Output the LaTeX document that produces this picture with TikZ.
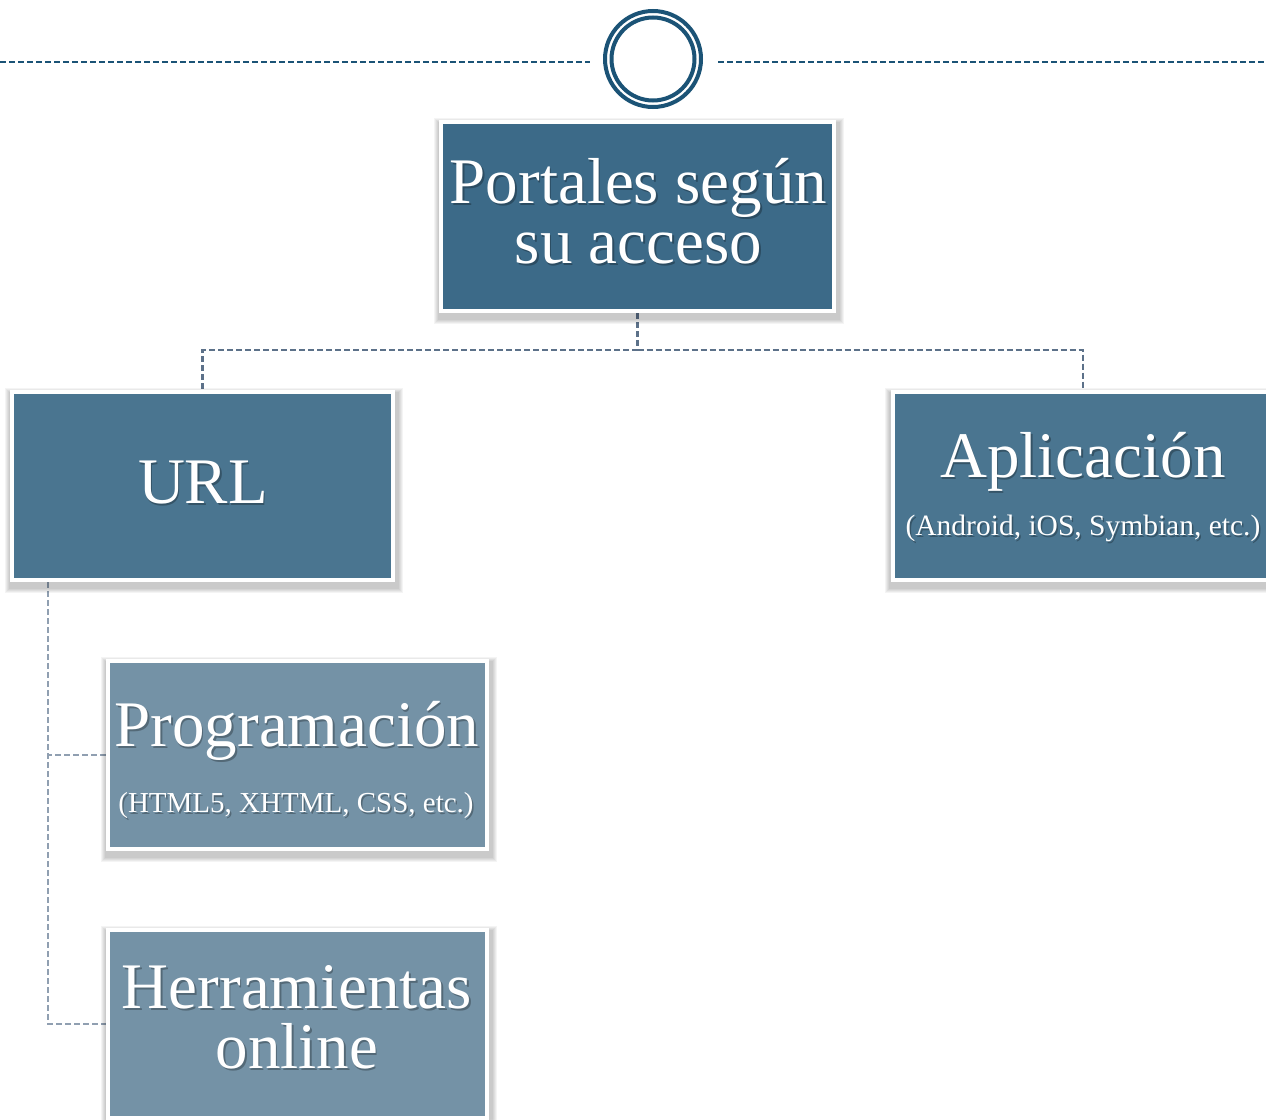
\documentclass[tikz,border=0pt]{standalone}
\usepackage{fontspec}
\setmainfont{Liberation Serif}
\usetikzlibrary{calc,backgrounds}
\definecolor{ringc}{HTML}{1B5376}
\definecolor{topc}{HTML}{3C6A88}
\definecolor{midc}{HTML}{4A7590}
\definecolor{lowc}{HTML}{7492A6}
\definecolor{connA}{HTML}{5C7189}
\definecolor{connB}{HTML}{909FB1}
\tikzset{
  boxbase/.style={rectangle, draw=white, line width=4pt, inner sep=0pt},
  topbox/.style={boxbase, fill=topc, minimum width=393pt, minimum height=189pt},
  midbox/.style={boxbase, fill=midc, minimum width=381pt, minimum height=188pt},
  lowbox/.style={boxbase, fill=lowc, minimum width=379pt, minimum height=188pt},
  bigtxt/.style={font=\fontsize{65}{60}\selectfont, text=white, anchor=base, inner sep=0pt, align=center},
  smalltxt/.style={font=\fontsize{29.5}{32}\selectfont, text=white, anchor=base, inner sep=0pt},
  rule/.style={draw=ringc, line width=1.4pt, dash pattern=on 6pt off 3pt},
  connmain/.style={draw=connA, line width=2.2pt, dash pattern=on 6pt off 3pt},
  connsub/.style={draw=connB, line width=2.2pt, dash pattern=on 6pt off 3pt},
  ring/.style={draw=ringc, line width=4pt},
}
\newcommand\boxshadow[1]{%
  \foreach \e in {2.5,3.5,...,6.5}{%
    \fill[black, opacity=0.045]
      ($(#1.south west)+(-\e+1,\e+4)$) rectangle ($(#1.north east)+(\e+1,-\e+4)$);}}
\newcommand\sdtxt[4]{%
  \node[#1, text=black, opacity=0.28] at ($(#2)+(1.5,2.5)$) {#4};
  \node[#1] (#3) at (#2) {#4};}
\begin{document}
\begin{tikzpicture}[x=1pt,y=-1pt]
\useasboundingbox (0,0) rectangle (1266,1119);
\clip (0,0) rectangle (1266,1119);

% top rule and rings
\coordinate (r1a) at (0,62);
\coordinate (r1b) at (590,62);
\coordinate (r2a) at (718,62);
\coordinate (r2b) at (1266,62);
\draw[rule] (r1a) -- (r1b);
\draw[rule] (r2a) -- (r2b);
\node[circle, ring, minimum size=96pt, inner sep=0pt] (ringout) at (653,59) {};
\node[circle, ring, minimum size=83pt, inner sep=0pt] (ringin) at (653,59) {};

% boxes
\node[topbox] (top) at (637.5,216.5) {};
\node[midbox] (url) at (202.5,486) {};
\node[midbox] (app) at (1083,486) {};
\node[lowbox] (prog) at (297.5,755) {};
\node[lowbox] (herr) at (297.5,1024) {};

% background: white page, connectors, shadows
\begin{scope}[on background layer]
\fill[white] (0,0) rectangle (1266,1119);
\draw[connmain] (top.south) -- ++(0,37) coordinate (junc);
\draw[connmain] (junc) -| (url.north);
\draw[connmain] (junc) -| (app.north);
\coordinate (trunk) at ($(url.south west)+(38,0)$);
\draw[connsub] (trunk) |- (prog.west);
\draw[connsub] (trunk) |- (herr.west);
\boxshadow{top}
\boxshadow{url}
\boxshadow{app}
\boxshadow{prog}
\boxshadow{herr}
\end{scope}

% texts
\sdtxt{bigtxt}{638.5,263}{t1}{Portales según\\su acceso}
\sdtxt{bigtxt}{203,503}{t3}{URL}
\sdtxt{bigtxt}{1083,477}{t4}{Aplicación}
\sdtxt{smalltxt}{1083,535}{t5}{(Android, iOS, Symbian, etc.)}
\sdtxt{bigtxt}{297,746}{t6}{Programación}
\sdtxt{smalltxt,font=\fontsize{29}{32}\selectfont}{296,812}{t7}{(HTML5, XHTML, CSS, etc.)}
\sdtxt{bigtxt}{297,1068}{t8}{Herramientas\\online}
\end{tikzpicture}
\end{document}
